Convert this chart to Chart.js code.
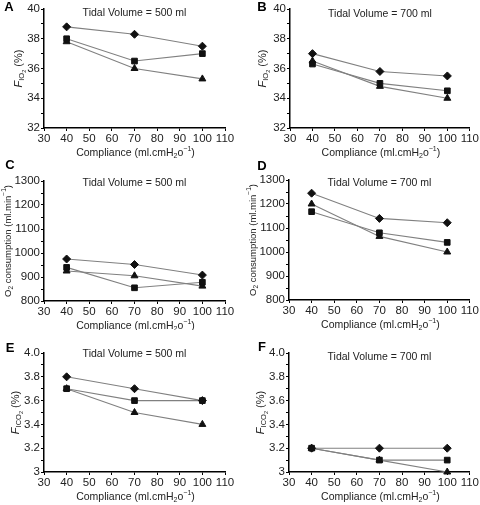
<!DOCTYPE html>
<html>
<head>
<meta charset="utf-8">
<script src="https://cdn.jsdelivr.net/npm/chart.js@4"></script>
<style>
  body { margin: 0; background: #fff; }
  #wrap { position: relative; width: 480px; height: 505px; }
  canvas { position: absolute; }
</style>
</head>
<body>
<div id="wrap"></div>
<script>
// x values shared by all panels
const compliance = [40, 70, 100];

// A: FIO2, tidal volume 500 ml
const fio2_500_diamond = [38.8, 38.3, 37.5];
const fio2_500_square = [38.0, 36.5, 37.0];
const fio2_500_triangle = [37.8, 36.0, 35.3];
// B: FIO2, tidal volume 700 ml
const fio2_700_diamond = [37.0, 35.8, 35.5];
const fio2_700_square = [36.3, 35.0, 34.5];
const fio2_700_triangle = [36.5, 34.8, 34.0];
// C: O2 consumption, 500 ml
const vo2_500_diamond = [975, 952, 908];
const vo2_500_square = [940, 855, 878];
const vo2_500_triangle = [925, 905, 862];
// D: O2 consumption, 700 ml
const vo2_700_diamond = [1245, 1140, 1122];
const vo2_700_square = [1168, 1080, 1040];
const vo2_700_triangle = [1200, 1065, 1000];
// E: FICO2, 500 ml
const fico2_500_diamond = [3.8, 3.7, 3.6];
const fico2_500_square = [3.7, 3.6, 3.6];
const fico2_500_triangle = [3.7, 3.5, 3.4];
// F: FICO2, 700 ml
const fico2_700_diamond = [3.2, 3.2, 3.2];
const fico2_700_square = [3.2, 3.1, 3.1];
const fico2_700_triangle = [3.2, 3.1, 3.0];

const xTicks = [30, 110, 10];
const fio2Ticks = [32, 40, 2];
const vo2Ticks = [800, 1300, 100];
const fico2Ticks = [3, 4, 0.2];

const FONT = '"Liberation Sans", Arial, sans-serif';
const TXT = '#222';

// rich text: list of [text, size, italic, dy]
function drawRich(ctx, segs, x, y, rotate) {
  ctx.save();
  ctx.translate(x, y);
  if (rotate) ctx.rotate(-Math.PI / 2);
  let total = 0;
  segs.forEach(s => {
    ctx.font = (s[2] ? 'italic ' : '') + s[1] + 'px ' + FONT;
    total += ctx.measureText(s[0]).width;
  });
  let cx = -total / 2;
  ctx.fillStyle = TXT;
  ctx.textBaseline = 'middle';
  ctx.textAlign = 'left';
  segs.forEach(s => {
    ctx.font = (s[2] ? 'italic ' : '') + s[1] + 'px ' + FONT;
    ctx.fillText(s[0], cx, s[3]);
    cx += ctx.measureText(s[0]).width;
  });
  ctx.restore();
}

const xTitle = [['Compliance (ml.cmH', 10.5, false, 0], ['2', 7, false, 3], ['o', 10.5, false, 0], ['\u22121', 7, false, -4], [')', 10.5, false, 0]];
const yTitles = {
  fio2: [['F', 11, true, 0], ['IO', 7.5, false, 3], ['2', 5.5, false, 5], [' (%)', 11, false, 0]],
  vo2: [['O', 9.5, false, 0], ['2', 6.5, false, 3], [' consumption (ml.min', 9.5, false, 0], ['\u22121', 6.5, false, -4], [')', 9.5, false, 0]],
  fico2: [['F', 11, true, 0], ['ICO', 7.5, false, 3], ['2', 5.5, false, 5], [' (%)', 11, false, 0]]
};

const panelText = {
  id: 'panelText',
  afterDraw(chart, args, o) {
    const ctx = chart.ctx, a = chart.chartArea;
    ctx.save();
    ctx.fillStyle = '#000';
    ctx.font = 'bold 13px ' + FONT;
    ctx.textAlign = 'center';
    ctx.textBaseline = 'middle';
    ctx.fillText(o.letter, o.lx, o.ly);
    ctx.fillStyle = TXT;
    ctx.font = '10.5px ' + FONT;
    ctx.fillText(o.subtitle, (a.left + a.right) / 2, a.top + o.sy);
    ctx.restore();
    drawRich(ctx, xTitle, (a.left + a.right) / 2 + 1, a.bottom + 25, false);
    drawRich(ctx, yTitles[o.ytype], a.left - o.yt, (a.top + a.bottom) / 2, true);
  }
};

function series(data, style) {
  return {
    data: compliance.map((c, i) => ({ x: c, y: data[i] })),
    borderColor: '#808080',
    borderWidth: 1.1,
    pointStyle: style,
    pointRadius: style === 'rect' ? 4 : 4,
    pointBackgroundColor: '#111',
    pointBorderColor: '#111',
    pointBorderWidth: 1,
    clip: false
  };
}

function makePanel(p) {
  const cv = document.createElement('canvas');
  cv.width = 240; cv.height = p.h;
  cv.style.left = p.left + 'px';
  cv.style.top = p.top + 'px';
  document.getElementById('wrap').appendChild(cv);
  const yt = p.yticks;
  const fmt = p.fmt;
  new Chart(cv, {
    type: 'line',
    data: {
      datasets: [
        series(p.d, 'rectRot'),
        series(p.s, 'rect'),
        series(p.t, 'triangle')
      ]
    },
    options: {
      responsive: false,
      animation: false,
      devicePixelRatio: 1,
      layout: { padding: { left: 0, right: p.pr, top: p.pt, bottom: 0 } },
      plugins: {
        legend: { display: false },
        tooltip: { enabled: false },
        panelText: { letter: p.letter, lx: p.lx, ly: p.ly, subtitle: p.subtitle, sy: p.sy, ytype: p.ytype, yt: p.yt }
      },
      scales: {
        x: {
          type: 'linear', min: xTicks[0], max: xTicks[1],
          afterFit: s => { s.height = p.xh; },
          ticks: { stepSize: xTicks[2], autoSkip: false, color: TXT, font: { family: FONT, size: 11.5 }, padding: 1, maxRotation: 0 },
          grid: { drawOnChartArea: false, drawTicks: true, tickLength: 3, color: '#000' },
          border: { color: '#000', width: 1.5 }
        },
        y: {
          type: 'linear', min: yt[0], max: yt[1],
          afterFit: s => { s.width = p.yw; },
          ticks: {
            stepSize: yt[2] / 2, autoSkip: false, color: TXT, font: { family: FONT, size: 11.5 }, padding: 1,
            callback: v => {
              const k = Math.round((v - yt[0]) / (yt[2] / 2));
              return k % 2 === 0 ? fmt(v) : '';
            }
          },
          grid: { drawOnChartArea: false, drawTicks: true, tickLength: 3, color: '#000' },
          border: { color: '#000', width: 1.5 }
        }
      }
    },
    plugins: [panelText]
  });
}

const intFmt = v => String(Math.round(v));
const co2Fmt = v => (Math.abs(v - 3) < 1e-6 ? '3' : v.toFixed(1));

const panels = [
  { letter: 'A', left: 0, top: 0, h: 160, pt: 9, pr: 15, xh: 32, yw: 44, lx: 9, ly: 7, sy: 4, yt: 25,
    subtitle: 'Tidal Volume = 500 ml', ytype: 'fio2', yticks: fio2Ticks, fmt: intFmt,
    d: fio2_500_diamond, s: fio2_500_square, t: fio2_500_triangle },
  { letter: 'B', left: 240, top: 0, h: 160, pt: 9, pr: 6, xh: 32, yw: 50, lx: 22, ly: 7, sy: 5, yt: 27,
    subtitle: 'Tidal Volume = 700 ml', ytype: 'fio2', yticks: fio2Ticks, fmt: intFmt,
    d: fio2_700_diamond, s: fio2_700_square, t: fio2_700_triangle },
  { letter: 'C', left: 0, top: 158, h: 172, pt: 23, pr: 15, xh: 29, yw: 44, lx: 10, ly: 7, sy: 2, yt: 36,
    subtitle: 'Tidal Volume = 500 ml', ytype: 'vo2', yticks: vo2Ticks, fmt: intFmt,
    d: vo2_500_diamond, s: vo2_500_square, t: vo2_500_triangle },
  { letter: 'D', left: 240, top: 158, h: 172, pt: 22, pr: 6, xh: 30, yw: 49, lx: 22, ly: 8, sy: 3, yt: 36,
    subtitle: 'Tidal Volume = 700 ml', ytype: 'vo2', yticks: vo2Ticks, fmt: intFmt,
    d: vo2_700_diamond, s: vo2_700_square, t: vo2_700_triangle },
  { letter: 'E', left: 0, top: 330, h: 175, pt: 23, pr: 15, xh: 33, yw: 44, lx: 10, ly: 18, sy: 1, yt: 28,
    subtitle: 'Tidal Volume = 500 ml', ytype: 'fico2', yticks: fico2Ticks, fmt: co2Fmt,
    d: fico2_500_diamond, s: fico2_500_square, t: fico2_500_triangle },
  { letter: 'F', left: 240, top: 330, h: 175, pt: 23, pr: 8, xh: 33, yw: 49, lx: 22, ly: 17, sy: 4, yt: 28,
    subtitle: 'Tidal Volume = 700 ml', ytype: 'fico2', yticks: fico2Ticks, fmt: co2Fmt,
    d: fico2_700_diamond, s: fico2_700_square, t: fico2_700_triangle }
];

panels.forEach(makePanel);
</script>
</body>
</html>
